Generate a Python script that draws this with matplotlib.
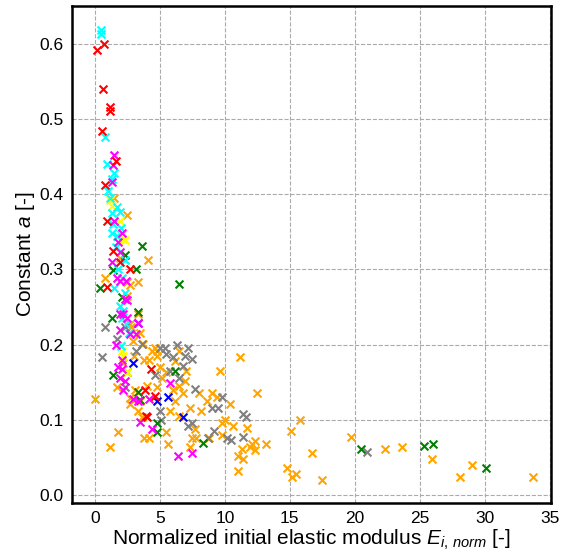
import numpy as np
import matplotlib
matplotlib.use("Agg")
import matplotlib.pyplot as plt

plt.rcParams['font.family'] = ['Liberation Sans', 'DejaVu Sans']
plt.rcParams['mathtext.fontset'] = 'custom'
plt.rcParams['mathtext.rm'] = 'Liberation Sans'
plt.rcParams['mathtext.it'] = 'Liberation Sans:italic'

# E_i,norm and a values, one pair of lists per colour group
orange_E = [1.5, 2.5, 1.7, 4.1, 1.9, 0.8, 2.5, 3.3, 2.7, 2.5, 3.3, 2.7, 2.8, 3.5, 2.9,
            3.7, 4.4, 4.8, 4.2, 3.8, 4.8, 6.5, 11.2, 9.6, 5.5, 5.2, 6.9, 6.5, 6.8, 6.0,
            4.8, 1.7, 2.7, 3.5, 0.0, 5.8, 6.5, 7.3, 8.2, 8.6, 9.0, 9.4, 10.4, 10.6, 11.7,
            12.5, 5.5, 4.2, 3.8, 5.6, 1.8, 1.2, 7.8, 9.8, 11.0, 11.4, 11.0, 12.1, 12.3, 13.2,
            8.8, 12.3, 11.9, 11.3, 15.8, 15.1, 16.7, 14.8, 15.2, 15.5, 17.5, 19.7, 22.3, 23.6,
            25.9, 29.0, 28.1, 33.7, 4.6, 4.0, 3.3, 3.6, 2.7, 3.1, 9.8, 7.7, 7.5, 7.3,
            2.2, 3.0, 5.0, 6.2, 7.0, 8.0, 10.0, 6.2]
orange_a = [0.395, 0.372, 0.345, 0.312, 0.315, 0.288, 0.283, 0.283, 0.279, 0.265, 0.241, 0.228, 0.223, 0.215, 0.205,
            0.201, 0.192, 0.192, 0.179, 0.179, 0.185, 0.192, 0.183, 0.165, 0.163, 0.156, 0.152, 0.145, 0.136, 0.139,
            0.143, 0.143, 0.129, 0.125, 0.127, 0.112, 0.105, 0.115, 0.112, 0.125, 0.136, 0.130, 0.121, 0.092, 0.089,
            0.135, 0.083, 0.076, 0.076, 0.068, 0.084, 0.064, 0.075, 0.079, 0.052, 0.048, 0.031, 0.068, 0.059, 0.067,
            0.076, 0.072, 0.063, 0.061, 0.100, 0.085, 0.055, 0.036, 0.023, 0.027, 0.020, 0.077, 0.061, 0.064,
            0.048, 0.040, 0.024, 0.024, 0.195, 0.145, 0.112, 0.103, 0.121, 0.139, 0.095, 0.087, 0.075, 0.063,
            0.175, 0.185, 0.170, 0.178, 0.165, 0.135, 0.100, 0.125]

gray_E = [0.77, 0.55, 1.7, 2.3, 3.2, 3.6, 4.6, 5.0, 5.4, 5.5, 6.3, 6.0, 6.9, 7.2, 7.5,
          6.8, 5.8, 6.5, 7.7, 5.0, 5.1, 7.2, 7.5, 9.0, 9.5, 9.8, 9.2, 10.2, 10.5, 11.4,
          11.6, 11.4, 2.3, 8.7, 20.9]
gray_a = [0.224, 0.184, 0.208, 0.224, 0.192, 0.201, 0.159, 0.196, 0.196, 0.188, 0.199, 0.183, 0.185, 0.195, 0.181,
          0.172, 0.165, 0.156, 0.141, 0.112, 0.099, 0.092, 0.095, 0.116, 0.115, 0.130, 0.085, 0.076, 0.073, 0.108,
          0.104, 0.077, 0.143, 0.076, 0.057]

green_E = [3.6, 2.3, 1.4, 0.4, 3.2, 2.1, 1.3, 6.5, 3.3, 1.4, 3.3, 6.2, 4.8, 4.8, 8.3,
           2.5, 3.5, 20.5, 25.3, 26.0, 30.1]
green_a = [0.331, 0.319, 0.299, 0.275, 0.300, 0.263, 0.236, 0.281, 0.243, 0.160, 0.137, 0.165, 0.096, 0.084, 0.069,
           0.163, 0.126, 0.061, 0.065, 0.067, 0.035]

blue_E = [4.8, 5.6, 6.8, 3.3, 2.9]
blue_a = [0.125, 0.130, 0.103, 0.229, 0.176]

yellow_E = [1.3, 1.9, 2.3, 1.2, 2.2, 2.1, 2.2, 2.5, 2.0]
yellow_a = [0.385, 0.365, 0.339, 0.392, 0.341, 0.192, 0.185, 0.163, 0.200]

cyan_E = [0.45, 0.5, 0.77, 0.9, 1.5, 1.3, 1.0, 1.7, 1.3, 1.9, 1.4, 1.3, 1.7, 2.3, 2.1,
          1.5, 1.9, 2.2, 2.1, 2.4, 1.2, 1.6, 2.0, 1.8, 2.3, 2.6, 2.0]
cyan_a = [0.619, 0.614, 0.477, 0.441, 0.428, 0.421, 0.405, 0.383, 0.375, 0.376, 0.361, 0.349, 0.345, 0.312, 0.289,
          0.275, 0.252, 0.245, 0.236, 0.228, 0.395, 0.330, 0.355, 0.300, 0.268, 0.215, 0.198]

magenta_E = [1.45, 1.4, 1.3, 1.5, 2.1, 1.8, 1.9, 1.3, 1.7, 1.9, 2.3, 1.9, 2.4, 2.5, 2.5,
             3.3, 1.9, 3.2, 2.7, 2.1, 1.9, 2.3, 2.2, 2.9, 3.3, 4.2, 3.5, 4.4, 5.8, 6.4,
             7.5, 1.8, 2.1, 2.2, 1.6]
magenta_a = [0.452, 0.439, 0.416, 0.365, 0.349, 0.336, 0.323, 0.310, 0.288, 0.285, 0.261, 0.241, 0.285, 0.259, 0.235,
             0.229, 0.219, 0.214, 0.214, 0.168, 0.155, 0.152, 0.139, 0.128, 0.125, 0.128, 0.097, 0.088, 0.149, 0.051,
             0.056, 0.170, 0.179, 0.241, 0.200]

red_E = [0.15, 0.7, 0.6, 1.15, 1.2, 0.55, 0.8, 1.6, 0.9, 1.4, 2.7, 0.9, 1.9, 4.3, 3.85,
         4.6, 3.9, 4.0]
red_a = [0.592, 0.601, 0.541, 0.517, 0.511, 0.484, 0.412, 0.445, 0.365, 0.324, 0.301, 0.276, 0.310, 0.167, 0.140,
         0.131, 0.105, 0.103]

groups = [
    (orange_E, orange_a, 'orange'),
    (gray_E, gray_a, 'gray'),
    (green_E, green_a, 'green'),
    (blue_E, blue_a, 'blue'),
    (yellow_E, yellow_a, 'yellow'),
    (cyan_E, cyan_a, 'cyan'),
    (magenta_E, magenta_a, 'magenta'),
    (red_E, red_a, 'red'),
]

fig = plt.figure(figsize=(5.63, 5.52), dpi=100)
ax = fig.add_axes([0.128, 0.089, 0.851, 0.9])

for xs, ys, col in groups:
    ax.scatter(xs, ys, marker='x', s=32, c=col, linewidths=1.5, zorder=3)

ax.set_xlim(-1.75, 35.1)
ax.set_ylim(-0.011, 0.651)
ax.grid(True, linestyle='--', color='#aaaaaa', linewidth=0.8)
ax.set_axisbelow(True)
for sp in ax.spines.values():
    sp.set_color('black')
    sp.set_linewidth(1.8)
ax.tick_params(length=0, labelsize=12.5, pad=6)
ax.set_xticks(np.arange(0, 36, 5))
ax.set_yticks(np.arange(0, 0.61, 0.1))
ax.set_xlabel(r'Normalized initial elastic modulus $E_{i,\,norm}$ [-]', fontsize=15, labelpad=1)
ax.set_ylabel(r'Constant $a$ [-]', fontsize=15, labelpad=2)

fig.savefig('out.png', dpi=100)
